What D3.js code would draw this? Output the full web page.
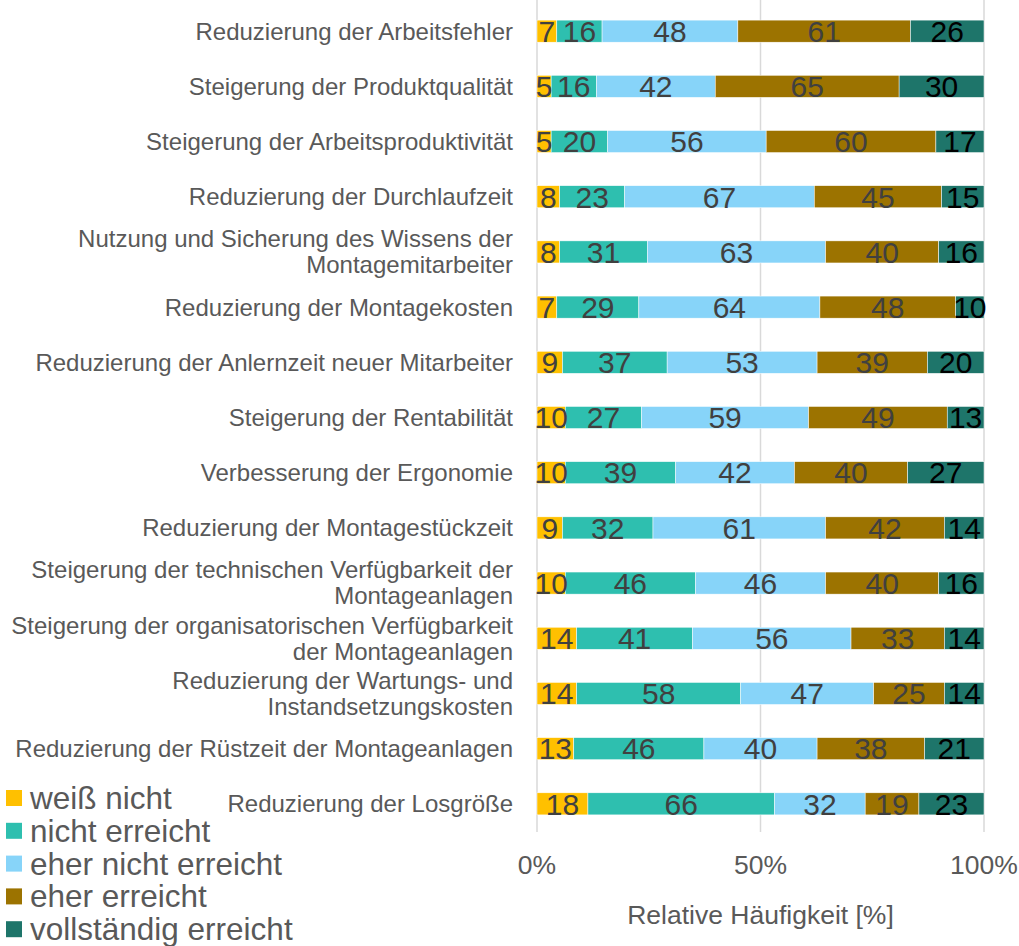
<!DOCTYPE html>
<html>
<head>
<meta charset="utf-8">
<script src="https://cdn.jsdelivr.net/npm/d3@7"></script>
<style>
  body { margin: 0; background: #fff; }
  text { font-family: "Liberation Sans", Arial, sans-serif; }
</style>
</head>
<body>
<script>
// categories, top to bottom (\n marks a line break in the label)
var categories = [
  "Reduzierung der Arbeitsfehler",
  "Steigerung der Produktqualität",
  "Steigerung der Arbeitsproduktivität",
  "Reduzierung der Durchlaufzeit",
  "Nutzung und Sicherung des Wissens der\nMontagemitarbeiter",
  "Reduzierung der Montagekosten",
  "Reduzierung der Anlernzeit neuer Mitarbeiter",
  "Steigerung der Rentabilität",
  "Verbesserung der Ergonomie",
  "Reduzierung der Montagestückzeit",
  "Steigerung der technischen Verfügbarkeit der\nMontageanlagen",
  "Steigerung der organisatorischen Verfügbarkeit\nder Montageanlagen",
  "Reduzierung der Wartungs- und\nInstandsetzungskosten",
  "Reduzierung der Rüstzeit der Montageanlagen",
  "Reduzierung der Losgröße"
];

var seriesNames = ["weiß nicht", "nicht erreicht", "eher nicht erreicht", "eher erreicht", "vollständig erreicht"];
var seriesColors = ["#FFC000", "#2EBFAF", "#87D4F9", "#9C7300", "#1E756A"];
var labelColors = ["#404040", "#404040", "#404040", "#404040", "#000000"];

var weissNicht        = [7, 5, 5, 8, 8, 7, 9, 10, 10, 9, 10, 14, 14, 13, 18];
var nichtErreicht     = [16, 16, 20, 23, 31, 29, 37, 27, 39, 32, 46, 41, 58, 46, 66];
var eherNichtErreicht = [48, 42, 56, 67, 63, 64, 53, 59, 42, 61, 46, 56, 47, 40, 32];
var eherErreicht      = [61, 65, 60, 45, 40, 48, 39, 49, 40, 42, 40, 33, 25, 38, 19];
var vollErreicht      = [26, 30, 17, 15, 16, 10, 20, 13, 27, 14, 16, 14, 14, 21, 23];

var tickValues = [0, 0.5, 1];
var axisTitle = "Relative Häufigkeit [%]";

var width = 1019, height = 946;
var svg = d3.select("body").append("svg")
    .attr("width", width)
    .attr("height", height);

var x = d3.scaleLinear().domain([0, 1]).range([537, 984]);
var y = d3.scaleBand().domain(categories).range([3, 832])
    .paddingInner(0.6).paddingOuter(0.31);

// rows of counts -> shares
var rows = categories.map(function(c, i) {
  var vals = [weissNicht[i], nichtErreicht[i], eherNichtErreicht[i], eherErreicht[i], vollErreicht[i]];
  var total = d3.sum(vals);
  var row = { cat: c };
  seriesNames.forEach(function(s, k) { row[s] = vals[k] / total; row[s + "_n"] = vals[k]; });
  return row;
});

var stacked = d3.stack().keys(seriesNames)(rows);

// gridlines
svg.append("g").selectAll("line")
  .data(tickValues)
  .enter().append("line")
    .attr("x1", function(d) { return x(d); })
    .attr("x2", function(d) { return x(d); })
    .attr("y1", 0)
    .attr("y2", 832)
    .attr("stroke", "#d9d9d9")
    .attr("stroke-width", 1.5);

// bars
var layer = svg.append("g").selectAll("g")
  .data(stacked)
  .enter().append("g")
    .attr("fill", function(d, k) { return seriesColors[k]; });

layer.selectAll("rect")
  .data(function(d) { return d; })
  .enter().append("rect")
    .attr("x", function(d) { return x(d[0]); })
    .attr("width", function(d) { return x(d[1]) - x(d[0]); })
    .attr("y", function(d) { return y(d.data.cat); })
    .attr("height", y.bandwidth())
    .attr("stroke", "#fff")
    .attr("stroke-width", 0.5);

// value labels
stacked.forEach(function(s, k) {
  svg.append("g").selectAll("text")
    .data(s)
    .enter().append("text")
      .attr("x", function(d) { return x((d[0] + d[1]) / 2); })
      .attr("y", function(d) { return y(d.data.cat) + y.bandwidth() / 2; })
      .attr("dy", "0.36em")
      .attr("text-anchor", "middle")
      .attr("font-size", "30px")
      .attr("fill", labelColors[k])
      .text(function(d) { return d.data[s.key + "_n"]; });
});

// category labels
var catLab = svg.append("g").selectAll("text")
  .data(categories)
  .enter().append("text")
    .attr("text-anchor", "end")
    .attr("font-size", "24px")
    .attr("fill", "#595959")
    .attr("transform", function(d) { return "translate(513," + (y(d) + y.bandwidth() / 2) + ")"; });

catLab.each(function(d) {
  var lines = d.split("\n");
  var t = d3.select(this);
  lines.forEach(function(l, j) {
    t.append("tspan")
      .attr("x", 0)
      .attr("y", (j - (lines.length - 1) / 2) * 26)
      .attr("dy", "0.35em")
      .text(l);
  });
});

// x tick labels
svg.append("g").selectAll("text")
  .data(tickValues)
  .enter().append("text")
    .attr("x", function(d) { return x(d); })
    .attr("y", 865)
    .attr("dy", "0.35em")
    .attr("text-anchor", "middle")
    .attr("font-size", "26.5px")
    .attr("fill", "#595959")
    .text(d3.format(".0%"));

svg.append("text")
  .attr("x", x(0.5))
  .attr("y", 915)
  .attr("dy", "0.35em")
  .attr("text-anchor", "middle")
  .attr("font-size", "26.5px")
  .attr("fill", "#595959")
  .text(axisTitle);

// legend
var leg = svg.append("g").selectAll("g")
  .data(seriesNames)
  .enter().append("g")
    .attr("transform", function(d, i) { return "translate(6," + (798 + i * 32.8) + ")"; });

leg.append("rect")
  .attr("x", 0).attr("y", -8)
  .attr("width", 16).attr("height", 16)
  .attr("fill", function(d, i) { return seriesColors[i]; });

leg.append("text")
  .attr("x", 24)
  .attr("dy", "0.35em")
  .attr("font-size", "31.5px")
  .attr("fill", "#595959")
  .text(function(d) { return d; });
</script>
</body>
</html>
